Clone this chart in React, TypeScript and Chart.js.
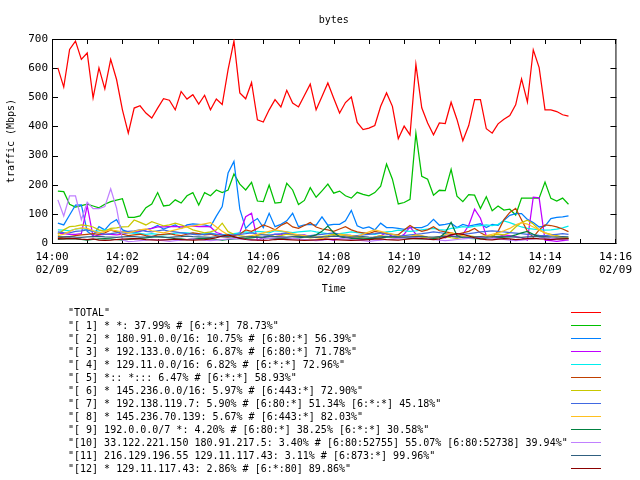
import React, { useEffect, useRef } from 'react';
import { Chart, registerables } from 'chart.js';

Chart.register(...registerables);

const TITLE = 'bytes';
const Y_TITLE = 'traffic (Mbps)';
const X_TITLE = 'Time';
const DATE_LABEL = '02/09';
const START_HOUR = 14;
const SAMPLE_START_SEC = 10;
const SAMPLE_STEP_SEC = 10;
const X_MAX_MIN = 16;
const Y_MAX = 700;
const Y_STEP = 100;

const LABELS = [
  '"TOTAL"',
  '"[ 1] * *: 37.99% # [6:*:*] 78.73%"',
  '"[ 2] * 180.91.0.0/16: 10.75% # [6:80:*] 56.39%"',
  '"[ 3] * 192.133.0.0/16: 6.87% # [6:80:*] 71.78%"',
  '"[ 4] * 129.11.0.0/16: 6.82% # [6:*:*] 72.96%"',
  '"[ 5] *:: *::: 6.47% # [6:*:*] 58.93%"',
  '"[ 6] * 145.236.0.0/16: 5.97% # [6:443:*] 72.90%"',
  '"[ 7] * 192.138.119.7: 5.90% # [6:80:*] 51.34% [6:*:*] 45.18%"',
  '"[ 8] * 145.236.70.139: 5.67% # [6:443:*] 82.03%"',
  '"[ 9] 192.0.0.0/7 *: 4.20% # [6:80:*] 38.25% [6:*:*] 30.58%"',
  '"[10] 33.122.221.150 180.91.217.5: 3.40% # [6:80:52755] 55.07% [6:80:52738] 39.94%"',
  '"[11] 216.129.196.55 129.11.117.43: 3.11% # [6:873:*] 99.96%"',
  '"[12] * 129.11.117.43: 2.86% # [6:*:80] 89.86%"',
];

const COLORS = [
  '#ff0000', '#00c000', '#0080ff', '#c000ff', '#00eeee', '#c04000', '#c8c800',
  '#4169e1', '#ffc020', '#008040', '#c080ff', '#306080', '#8b0000',
];

const TOTAL = [601,535,664,693,630,652,498,601,529,630, 561,457,377,463,471,446,429,463,495,490,
  457,520,494,509,477,507,457,494,475,595, 693,515,495,551,423,415,457,492,467,524,
  480,467,506,545,457,503,549,497,446,482, 501,414,389,394,403,469,515,469,358,401,
  371,613,464,412,371,412,410,483,424,351, 403,492,492,392,377,409,425,437,474,563,
  484,663,602,457,457,451,440,435];
const S1 = [178,176,133,123,128,133,127,121,133,142, 147,152,88,88,93,121,134,173,127,130,
  148,137,162,173,130,173,162,182,173,182, 237,202,182,208,144,142,199,137,139,205,
  182,132,146,190,157,179,202,171,178,162, 154,174,167,162,173,195,271,219,134,139,
  150,377,229,219,164,181,180,253,161,142, 166,164,118,159,111,127,113,116,96,154,
  154,154,154,209,153,144,154,133];
const S2 = [68,62,96,130,131,40,25,56,45,68, 80,45,38,35,40,46,50,60,48,55,
  62,50,62,66,64,62,56,92,125,240, 280,116,50,70,84,53,102,56,64,76,
  102,56,62,64,61,90,61,64,64,76, 112,59,50,55,45,68,53,53,50,47,
  53,53,53,61,81,61,64,68,53,64, 58,62,66,53,64,61,78,95,101,101,
  81,70,55,58,84,88,90,93];
const S3 = [34,32,30,30,32,128,22,28,30,30, 28,30,35,38,42,45,50,55,55,56,
  57,55,57,58,56,57,55,36,30,28, 28,35,90,102,10,18,25,30,28,35,
  30,25,28,22,20,18,12,10,15,20, 18,15,12,14,20,25,35,22,18,30,
  55,30,20,18,15,22,18,25,20,30, 60,116,85,25,22,20,28,25,22,18,
  10,157,155,10,8,6,8,10];
const S4 = [45,44,42,48,50,45,40,42,45,44, 40,36,35,34,33,30,32,30,28,30,
  34,36,35,33,30,32,35,30,28,30, 32,35,38,36,40,38,35,42,40,38,
  36,38,40,42,38,35,32,30,32,35, 38,36,34,32,30,34,38,40,44,42,
  40,42,45,48,50,46,44,50,52,56, 54,58,60,62,60,64,76,70,62,55,
  50,48,46,44,45,48,52,58];
const S5 = [18,20,22,25,28,30,32,30,35,45, 38,30,25,28,30,25,22,28,30,32,
  28,25,30,35,32,28,30,25,22,20, 25,30,45,40,50,62,55,45,60,70,
  55,50,60,70,55,48,45,40,48,56, 45,38,35,32,40,36,32,30,28,45,
  60,48,40,45,56,42,38,35,30,35, 40,50,35,25,20,40,80,105,119,80,
  40,20,45,62,60,55,48,39];
const S6 = [30,45,56,58,62,60,55,45,40,50, 52,55,56,79,71,62,73,66,59,62,
  68,62,55,45,40,35,38,45,68,39, 30,25,22,20,25,30,28,22,25,30,
  28,25,22,18,20,22,25,30,28,25, 22,20,18,15,20,25,22,18,15,20,
  22,25,20,18,15,20,22,18,15,20, 25,22,18,20,25,30,28,35,55,70,
  78,65,45,35,30,25,20,18];
const S7 = [38,36,35,40,42,45,40,35,30,32, 35,38,40,42,45,40,38,42,45,40,
  38,35,32,30,28,30,32,30,28,26, 28,30,32,35,30,28,26,30,32,35,
  30,28,26,25,28,30,32,35,30,28, 26,25,28,30,32,35,30,28,26,25,
  28,30,32,35,38,36,32,30,28,30, 32,35,38,40,42,40,38,36,34,32,
  30,28,26,25,28,30,32,30];
const S8 = [25,30,40,48,52,50,42,35,40,45, 42,38,35,40,45,48,42,38,35,40,
  45,50,55,58,62,66,70,55,40,28, 20,18,22,25,30,35,40,45,42,38,
  32,28,25,22,18,15,20,25,30,28, 25,22,30,38,45,40,35,30,25,20,
  22,28,25,20,18,22,28,35,30,25, 20,18,22,25,30,35,42,50,62,70,
  65,55,45,35,28,22,18,15];
const S9 = [12,14,15,14,12,10,12,14,15,14, 12,10,12,14,16,18,20,22,20,18,
  15,14,12,14,16,15,14,12,10,12, 14,15,16,18,20,18,16,15,14,15,
  16,18,20,22,28,40,58,35,22,18, 16,15,14,15,16,18,20,22,20,18,
  16,15,14,15,16,18,35,71,25,18, 16,15,14,15,16,18,20,22,28,35,
  40,30,22,18,16,15,14,15];
const S10 = [148,93,162,162,80,140,118,118,125,186, 120,10,5,6,8,10,12,10,8,6,
  8,10,12,14,12,10,8,10,12,14, 16,14,12,10,12,14,16,18,20,18,
  16,14,12,10,8,10,12,14,16,14, 12,10,8,6,8,10,12,14,16,18,
  20,18,16,14,12,10,8,10,12,14, 16,18,20,18,16,14,12,10,8,10,
  12,14,16,18,16,14,12,10];
const S11 = [22,21,22,20,19,21,22,23,21,20, 19,21,22,22,20,21,23,22,20,19,
  21,22,24,22,21,20,19,21,23,22, 20,19,21,22,20,21,23,22,21,20,
  22,23,21,20,19,21,22,24,23,21, 20,21,22,20,19,21,23,22,21,20,
  21,22,23,21,20,22,24,23,21,20, 19,21,22,20,21,23,22,21,20,19,
  21,22,23,22,21,20,22,21];
const S12 = [15,14,16,15,13,12,14,10,9,10, 12,13,14,15,14,12,11,10,11,12,
  13,12,11,10,11,12,14,18,24,28, 22,16,12,11,10,9,10,12,13,12,
  11,10,9,10,11,12,13,12,11,10, 9,10,11,12,13,14,12,11,10,12,
  14,16,15,13,12,14,20,28,32,30, 24,18,14,12,11,13,15,14,12,13,
  15,16,14,13,12,13,14,15];

const SERIES = [TOTAL, S1, S2, S3, S4, S5, S6, S7, S8, S9, S10, S11, S12];

const MONO = '"DejaVu Sans Mono", "Liberation Mono", monospace';

const pad2 = (n: number) => (n < 10 ? '0' + n : String(n));

const frameAndLegend = {
  id: 'frameAndLegend',
  beforeDatasetsDraw(chart: any) {
    const { ctx, chartArea: a, scales } = chart;
    ctx.save();
    ctx.strokeStyle = '#000';
    ctx.lineWidth = 1;
    ctx.strokeRect(a.left + 0.5, a.top + 0.5, a.right - a.left, a.bottom - a.top);
    ctx.beginPath();
    for (const t of scales.y.ticks) {
      const py = Math.round(scales.y.getPixelForValue(t.value)) + 0.5;
      ctx.moveTo(a.left, py); ctx.lineTo(a.left + 6, py);
      ctx.moveTo(a.right + 1, py); ctx.lineTo(a.right - 5, py);
    }
    for (const t of scales.x.ticks) {
      const px = Math.round(scales.x.getPixelForValue(t.value)) + 0.5;
      ctx.moveTo(px, a.bottom + 1); ctx.lineTo(px, a.bottom - 4);
      ctx.moveTo(px, a.top); ctx.lineTo(px, a.top + 5);
    }
    ctx.stroke();
    ctx.restore();
  },
  afterDraw(chart: any) {
    const { ctx, chartArea: a } = chart;
    ctx.save();
    ctx.fillStyle = '#000';
    ctx.font = '10px ' + MONO;
    ctx.textAlign = 'center';
    ctx.textBaseline = 'middle';
    ctx.fillText(TITLE, (a.left + a.right) / 2, 20);
    ctx.textAlign = 'left';
    chart.data.datasets.forEach((ds: any, i: number) => {
      const y = 313 + 13 * i;
      ctx.fillStyle = '#000';
      ctx.fillText(ds.label, 68, y + 0.5);
      ctx.strokeStyle = ds.borderColor;
      ctx.lineWidth = 1;
      ctx.beginPath();
      ctx.moveTo(571, y - 0.5);
      ctx.lineTo(601, y - 0.5);
      ctx.stroke();
    });
    ctx.restore();
  },
};

export default function App() {
  const ref = useRef<HTMLCanvasElement>(null);
  useEffect(() => {
    if (!ref.current) return;
    const datasets = SERIES.map((values, i) => ({
      label: LABELS[i],
      data: values.map((v, k) => ({ x: (SAMPLE_START_SEC + SAMPLE_STEP_SEC * k) / 60, y: v })),
      borderColor: COLORS[i],
      backgroundColor: COLORS[i],
      borderWidth: 1.25,
      pointRadius: 0,
      tension: 0,
      fill: false,
      order: SERIES.length - i,
    }));
    const chart = new Chart(ref.current, {
      type: 'line',
      data: { datasets },
      plugins: [frameAndLegend],
      options: {
        animation: false,
        responsive: false,
        devicePixelRatio: 1,
        layout: { padding: { top: 39, right: 18, left: 0, bottom: 0 } },
        plugins: { legend: { display: false }, tooltip: { enabled: false }, title: { display: false } },
        scales: {
          x: {
            type: 'linear',
            min: 0,
            max: X_MAX_MIN,
            grid: { display: false, drawTicks: false },
            border: { display: false },
            afterFit: (s: any) => { s.height = 237; },
            ticks: {
              stepSize: 1,
              autoSkip: false,
              maxRotation: 0,
              padding: 8,
              color: '#000',
              font: { family: MONO, size: 11, lineHeight: '13px' },
              callback: (v: any) => (Number(v) % 2 === 0 ? [START_HOUR + ':' + pad2(Number(v)), DATE_LABEL] : ''),
            },
            title: { display: true, text: X_TITLE, color: '#000', font: { family: MONO, size: 10, lineHeight: 1.2 }, padding: { top: 0, bottom: 185 } },
          },
          y: {
            min: 0,
            max: Y_MAX,
            grid: { display: false, drawTicks: false },
            border: { display: false },
            afterFit: (s: any) => { s.width = 52; },
            ticks: { stepSize: Y_STEP, padding: 4, color: '#000', font: { family: MONO, size: 11 } },
            title: { display: true, text: Y_TITLE, color: '#000', font: { family: MONO, size: 10, lineHeight: 1.2 }, padding: { top: 5, bottom: 0 } },
          },
        },
      } as any,
    });
    return () => chart.destroy();
  }, []);
  return (
    <div style={{ position: 'fixed', left: 0, top: 0, width: 640, height: 480, background: '#fff' }}>
      <canvas ref={ref} width={640} height={480} style={{ display: 'block' }} />
    </div>
  );
}
